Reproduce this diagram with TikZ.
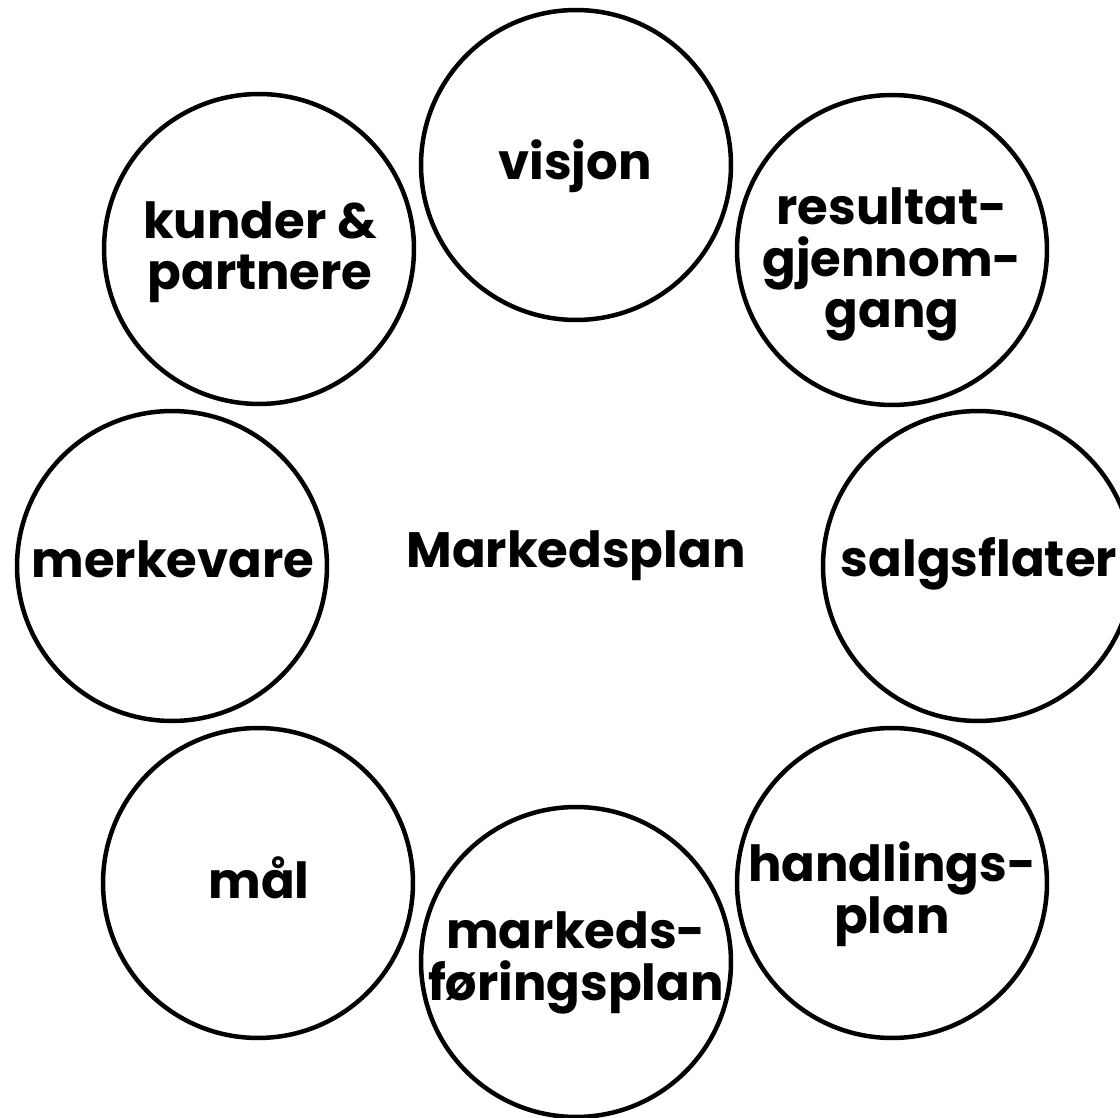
\documentclass[tikz,border=0pt]{standalone}
\usepackage{fontspec}
\setmainfont{Poppins}
\setlength\lineskiplimit{-100pt}
\tikzset{
  ring/.style={circle, draw, line width=0.09cm, minimum size=6.2cm, inner sep=0pt},
  word/.style={anchor=base, align=center, inner sep=0pt, font=\bfseries\fontsize{28.3}{29.5}\selectfont},
}
\begin{document}
\begin{tikzpicture}[x=0.02cm,y=-0.02cm]
\useasboundingbox (0,0) rectangle (1120,1118);
% the eight circles
\node[ring] (visjon) at (576,165) {};
\node[ring] (resultat) at (892,250) {};
\node[ring] (salg) at (978,566) {};
\node[ring] (handling) at (892,883) {};
\node[ring] (markeds) at (576,962) {};
\node[ring] (maal) at (258,883) {};
\node[ring] (merke) at (172,566) {};
\node[ring] (kunder) at (259,249) {};
% texts (base = last line)
\node[word] (t-plan) at (576,568) {Markedsplan};
\node[word] (t-visjon) at (575,180) {visjon};
\node[word] (t-resultat) at (892,328) {resultat-\\gjennom-\\gang};
\node[word] (t-salg) at (979,577) {salgsflater};
\node[word] (t-handling) at (892,933) {handlings-\\plan};
\node[word] (t-markeds) at (576,1000) {markeds-\\føringsplan};
\node[word] (t-maal) at (259,898) {mål};
\node[word] (t-merke) at (173,578) {merkevare};
\node[word] (t-kunder) at (260,290) {kunder \&\\partnere};
\end{tikzpicture}
\end{document}
